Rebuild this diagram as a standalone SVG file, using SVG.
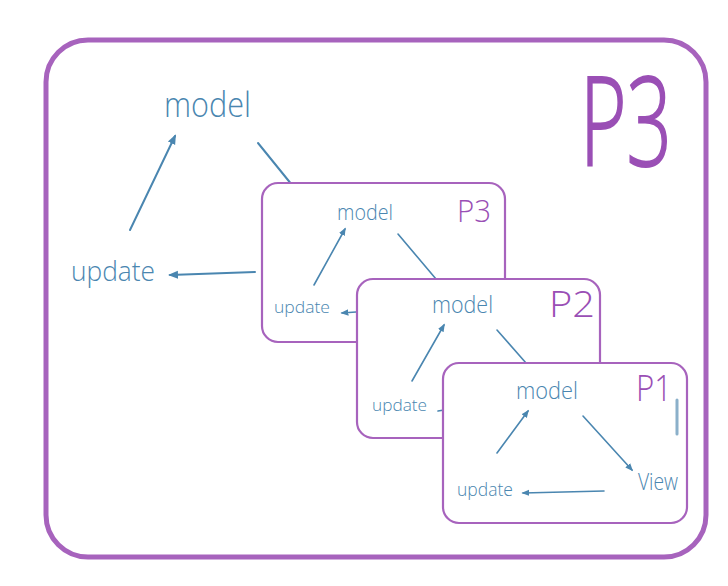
<svg xmlns="http://www.w3.org/2000/svg" width="728" height="586" viewBox="0 0 728 586">
<defs>
<marker id="ah" viewBox="0 0 10 10" refX="8" refY="5" markerWidth="5" markerHeight="5" orient="auto-start-reverse">
<path d="M0,1 L10,5 L0,9 z" fill="#4a86b0"/>
</marker>
<style>
.frame{stroke:#a763bd;stroke-linecap:round}
.outerf{fill:none}
.box{fill:#ffffff}
.lbl{font-family:"Open Sans","DejaVu Sans",sans-serif;font-weight:300;fill:#4a86b0}
.tag{font-family:"Open Sans","DejaVu Sans",sans-serif;font-weight:300;fill:#9a4fb5}
.e{fill:none;stroke:#4a86b0;stroke-width:2;stroke-linecap:round}
.s{stroke-width:1.6}
</style>
</defs>
<rect width="728" height="586" fill="#ffffff"/>
<g id="outer">
<rect class="frame outerf" x="46" y="40" width="660" height="517" rx="42" stroke-width="5"/>
<text class="tag" x="580" y="166" font-size="124" font-weight="400" stroke="#9a4fb5" stroke-width="2" textLength="92" lengthAdjust="spacingAndGlyphs">P3</text>
<text class="lbl" x="164" y="117" font-size="35" textLength="87" lengthAdjust="spacingAndGlyphs">model</text>
<text class="lbl" x="71" y="281" font-size="27" textLength="84" lengthAdjust="spacingAndGlyphs">update</text>
</g>
<g id="connectors">
<line class="e" x1="130" y1="230" x2="175" y2="136" marker-end="url(#ah)"/>
<line class="e" x1="258" y1="143" x2="292" y2="185"/>
<line class="e" x1="255" y1="272" x2="170" y2="275" marker-end="url(#ah)"/>
</g>
<g id="p3">
<rect class="frame box" x="262" y="183" width="243" height="159" rx="16" stroke-width="2.2"/>
<text class="tag" x="457" y="222" font-size="32" textLength="34" lengthAdjust="spacingAndGlyphs">P3</text>
<text class="lbl" x="337" y="220" font-size="22" textLength="56" lengthAdjust="spacingAndGlyphs">model</text>
<text class="lbl" x="274" y="313" font-size="16" textLength="56" lengthAdjust="spacingAndGlyphs">update</text>
</g>
<g id="p3-connectors">
<line class="e s" x1="398" y1="234" x2="436" y2="279"/>
<line class="e s" x1="314" y1="285" x2="345" y2="229" marker-end="url(#ah)"/>
<line class="e s" x1="356" y1="312" x2="342" y2="313" marker-end="url(#ah)"/>
</g>
<g id="p2">
<rect class="frame box" x="357" y="279" width="243" height="159" rx="16" stroke-width="2.2"/>
<text class="tag" x="549" y="317" font-size="36" textLength="46" lengthAdjust="spacingAndGlyphs">P2</text>
<text class="lbl" x="432" y="313" font-size="24" textLength="61" lengthAdjust="spacingAndGlyphs">model</text>
<text class="lbl" x="372" y="411" font-size="17" textLength="55" lengthAdjust="spacingAndGlyphs">update</text>
</g>
<g id="p2-connectors">
<line class="e s" x1="412" y1="381" x2="444" y2="325" marker-end="url(#ah)"/>
<line class="e s" x1="497" y1="330" x2="526" y2="363"/>
<line class="e s" x1="444" y1="410" x2="438" y2="411"/>
</g>
<g id="p1">
<rect class="frame box" x="443" y="363" width="244" height="160" rx="16" stroke-width="2.2"/>
<text class="tag" x="636" y="401" font-size="36" textLength="36" lengthAdjust="spacingAndGlyphs">P1</text>
<text class="lbl" x="516" y="399" font-size="24" textLength="62" lengthAdjust="spacingAndGlyphs">model</text>
<text class="lbl" x="457" y="496" font-size="18" textLength="56" lengthAdjust="spacingAndGlyphs">update</text>
<text class="lbl" x="638" y="490" font-size="24" textLength="40" lengthAdjust="spacingAndGlyphs">View</text>
<line x1="677" y1="400" x2="677" y2="434" stroke="#5b8fb5" stroke-width="3" stroke-linecap="round" opacity="0.7"/>
</g>
<g id="p1-connectors">
<line class="e s" x1="497" y1="453" x2="528" y2="411" marker-end="url(#ah)"/>
<line class="e s" x1="583" y1="416" x2="632" y2="470" marker-end="url(#ah)"/>
<line class="e s" x1="604" y1="491" x2="523" y2="493" marker-end="url(#ah)"/>
</g>
</svg>
